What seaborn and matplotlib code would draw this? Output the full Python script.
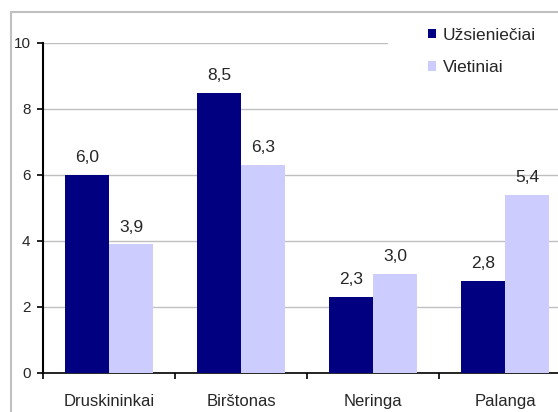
import pandas as pd
import matplotlib
matplotlib.use('Agg')
import matplotlib.pyplot as plt
import seaborn as sns
from matplotlib.patches import Rectangle, Patch
from matplotlib.ticker import FixedLocator

# data
places = ['Druskininkai', 'Birštonas', 'Neringa', 'Palanga']
groups = ['Užsieniečiai', 'Vietiniai']
foreign = [6.0, 8.5, 2.3, 2.8]
local = [3.9, 6.3, 3.0, 5.4]
colors = ['#000080', '#CCCCFF']

df = pd.DataFrame({
    'place': places * 2,
    'group': [groups[0]] * 4 + [groups[1]] * 4,
    'value': foreign + local,
})

sns.set_theme(style='white')
plt.rcParams['font.family'] = ['Liberation Sans', 'DejaVu Sans']

W, H = 558, 412
fig = plt.figure(figsize=(W / 100, H / 100), dpi=100)
# plot area runs past the right edge, like the cropped original
ax = fig.add_axes([43 / W, 1 - 373 / H, 528 / W, 330 / H])

sns.barplot(data=df, x='place', y='value', hue='group', order=places,
            hue_order=groups, palette=colors, saturation=1, width=0.667,
            linewidth=0, errorbar=None, legend=False, ax=ax, zorder=3)

ax.set_xlim(-0.5, 3.5)
ax.set_ylim(0, 10)
ax.set_yticks([0, 2, 4, 6, 8, 10])
ax.yaxis.grid(True, color='#c0c0c0', linewidth=1.0, zorder=0)
ax.set_axisbelow(True)
ax.set_xlabel('')
ax.set_ylabel('')

for side in ['top', 'right']:
    ax.spines[side].set_visible(False)
ax.spines['left'].set_color('black')
ax.spines['left'].set_linewidth(1.5)
ax.spines['bottom'].set_color('black')
ax.spines['bottom'].set_linewidth(1.2)

# tick marks between categories, labels at centres
ax.xaxis.set_major_locator(FixedLocator([-0.5, 0.5, 1.5, 2.5, 3.5]))
ax.xaxis.set_major_formatter(plt.NullFormatter())
ax.xaxis.set_minor_locator(FixedLocator(range(len(places))))
ax.xaxis.set_minor_formatter(plt.FixedFormatter(places))
ax.tick_params(axis='x', which='major', direction='out', length=4, width=1.2,
               color='black', bottom=True)
ax.tick_params(axis='x', which='minor', length=0, pad=15, labelsize=12,
               bottom=True)
ax.tick_params(axis='y', direction='out', length=4, width=1.2, color='black',
               left=True, pad=5, labelsize=11)

# value labels with decimal comma
for cont, vals in zip(ax.containers, [foreign, local]):
    ax.bar_label(cont, labels=[f'{v:.1f}'.replace('.', ',') for v in vals],
                 padding=7, fontsize=12.5)

# white legend area covering the top gridline
fig.patches.append(Rectangle((388 / W, 1 - 100 / H), 200 / W, 86 / H,
                             transform=fig.transFigure, facecolor='white',
                             edgecolor='none', zorder=2))
handles = [Patch(facecolor=c, edgecolor='none') for c in colors]
fig.legend(handles, groups, loc='upper left',
           bbox_to_anchor=(419 / W, 1 - 19 / H), frameon=False, fontsize=12.5,
           borderpad=0, handlelength=0.5, handleheight=0.5,
           handletextpad=0.35, labelspacing=1.0)

# outer chart frame
fig.patches.append(Rectangle((11 / W, -20 / H), 600 / W, (H - 12 + 20) / H,
                             transform=fig.transFigure, facecolor='none',
                             edgecolor='#c0c0c0', linewidth=1.5, zorder=3))

fig.savefig('out.png', dpi=100)
